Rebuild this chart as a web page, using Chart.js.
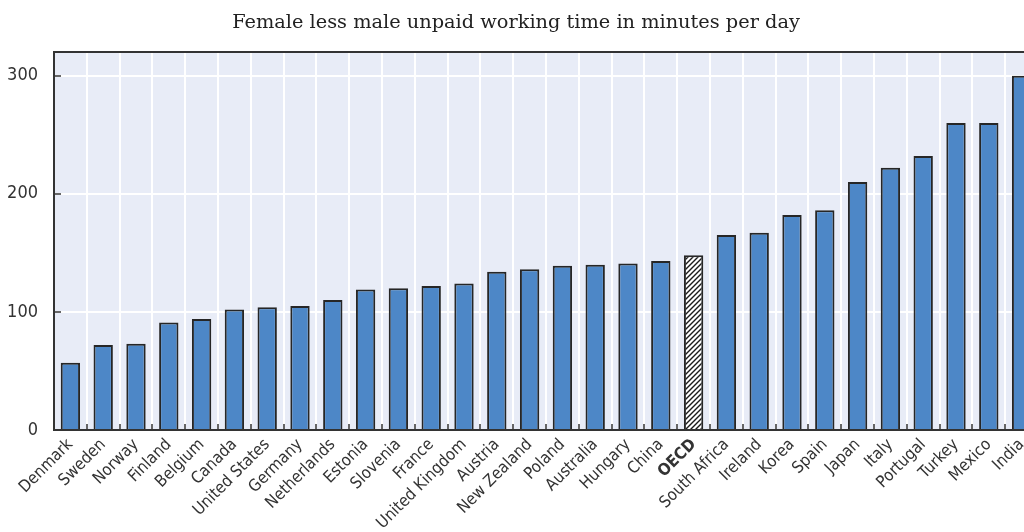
<!DOCTYPE html>
<html><head><meta charset="utf-8">
<script src="https://cdn.jsdelivr.net/npm/chart.js@4.4.1/dist/chart.umd.min.js"></script>
<style>
html,body{margin:0;padding:0;background:#fff;overflow:hidden;width:1024px;height:532px;}
#wrap{position:absolute;left:0;top:0;width:1070px;height:600px;}
#sub{position:absolute;left:0;width:1032px;top:10px;text-align:center;font-family:"DejaVu Serif",serif;font-size:18px;color:#222;white-space:nowrap;}
</style></head><body>
<div id="wrap"><canvas id="c"></canvas></div>
<div id="sub"><span id="subt">Female less male unpaid working time in minutes per day</span></div>
<script>
const countries = ["Denmark","Sweden","Norway","Finland","Belgium","Canada","United States","Germany","Netherlands","Estonia","Slovenia","France","United Kingdom","Austria","New Zealand","Poland","Australia","Hungary","China","OECD","South Africa","Ireland","Korea","Spain","Japan","Italy","Portugal","Turkey","Mexico","India"];
const gapMinutes = [57,72,73,91,94,102,104,105,110,119,120,122,124,134,136,139,140,141,143,148,165,167,182,186,210,222,232,260,260,300];
const yTickValues = [0,100,200,300];
const yMax = 320;
const highlightLabel = "OECD";

// fit subtitle width to the reference's measured width
(function(){
  const sp = document.getElementById('subt');
  const w = sp.getBoundingClientRect().width;
  if (w > 0) document.getElementById('sub').style.fontSize = (18*568/w).toFixed(2)+'px';
})();

const ctx = document.getElementById('c').getContext('2d');
function hatchPattern(){
  const s = 5;
  const c = document.createElement('canvas'); c.width = s; c.height = s;
  const g = c.getContext('2d');
  g.fillStyle = '#fff'; g.fillRect(0,0,s,s);
  g.strokeStyle = '#1a1a1a'; g.lineWidth = 1.4;
  g.beginPath();
  g.moveTo(0,s); g.lineTo(s,0);
  g.moveTo(-1,1); g.lineTo(1,-1);
  g.moveTo(s-1,s+1); g.lineTo(s+1,s-1);
  g.stroke();
  return ctx.createPattern(c,'repeat');
}
const hatch = hatchPattern();
const barColors = countries.map(c => c === highlightLabel ? hatch : '#4d87c7');

const frame = {
  id:'frame',
  beforeDraw(chart){
    const a = chart.chartArea, g = chart.ctx;
    g.save(); g.fillStyle = '#e8ecf7'; g.fillRect(a.left, a.top, a.right-a.left, a.bottom-a.top); g.restore();
  },
  afterDraw(chart){
    const a = chart.chartArea, g = chart.ctx;
    g.save(); g.strokeStyle = '#333'; g.lineWidth = 2;
    g.beginPath(); g.moveTo(a.left, a.bottom); g.lineTo(a.left, a.top); g.lineTo(a.right, a.top); g.stroke();
    g.restore();
  }
};

const labelFamily = '"Liberation Sans Narrow","Arial Narrow","DejaVu Sans Condensed",sans-serif';
new Chart(ctx, {
  type:'bar',
  data:{ labels: countries, datasets:[{ data: gapMinutes, backgroundColor: barColors, borderColor:'#262626', borderWidth:2, barPercentage:0.59, categoryPercentage:1 }] },
  options:{
    responsive:true, maintainAspectRatio:false, animation:false,
    layout:{ padding:{ top:52, left:0, right:32, bottom:0 } },
    plugins:{ legend:{display:false}, tooltip:{enabled:false} },
    scales:{
      x:{
        offset:true,
        grid:{ offset:true, color:'#ffffff', lineWidth:2, tickColor:'#333', tickLength:-6, tickWidth:1.5 },
        border:{ display:true, color:'#333', width:2 },
        ticks:{ autoSkip:false, maxRotation:45, minRotation:45, padding:11, color:'#333',
          font:(c)=>({ family:labelFamily, size:16.5, weight: (c.tick && c.tick.label===highlightLabel) ? 'bold' : 'normal' }) },
        afterFit(scale){ scale.height = 170; }
      },
      y:{
        min:0, max:yMax,
        afterBuildTicks(scale){ scale.ticks = yTickValues.map(v=>({value:v})); },
        grid:{ color:'#ffffff', lineWidth:2, tickColor:'#333', tickLength:-7, tickWidth:1.5 },
        border:{ display:true, color:'#333', width:2 },
        ticks:{ padding:23, color:'#333', font:{ family:labelFamily, size:18 } },
        afterFit(scale){ scale.width = 54; }
      }
    }
  },
  plugins:[frame]
});
</script>
</body></html>
